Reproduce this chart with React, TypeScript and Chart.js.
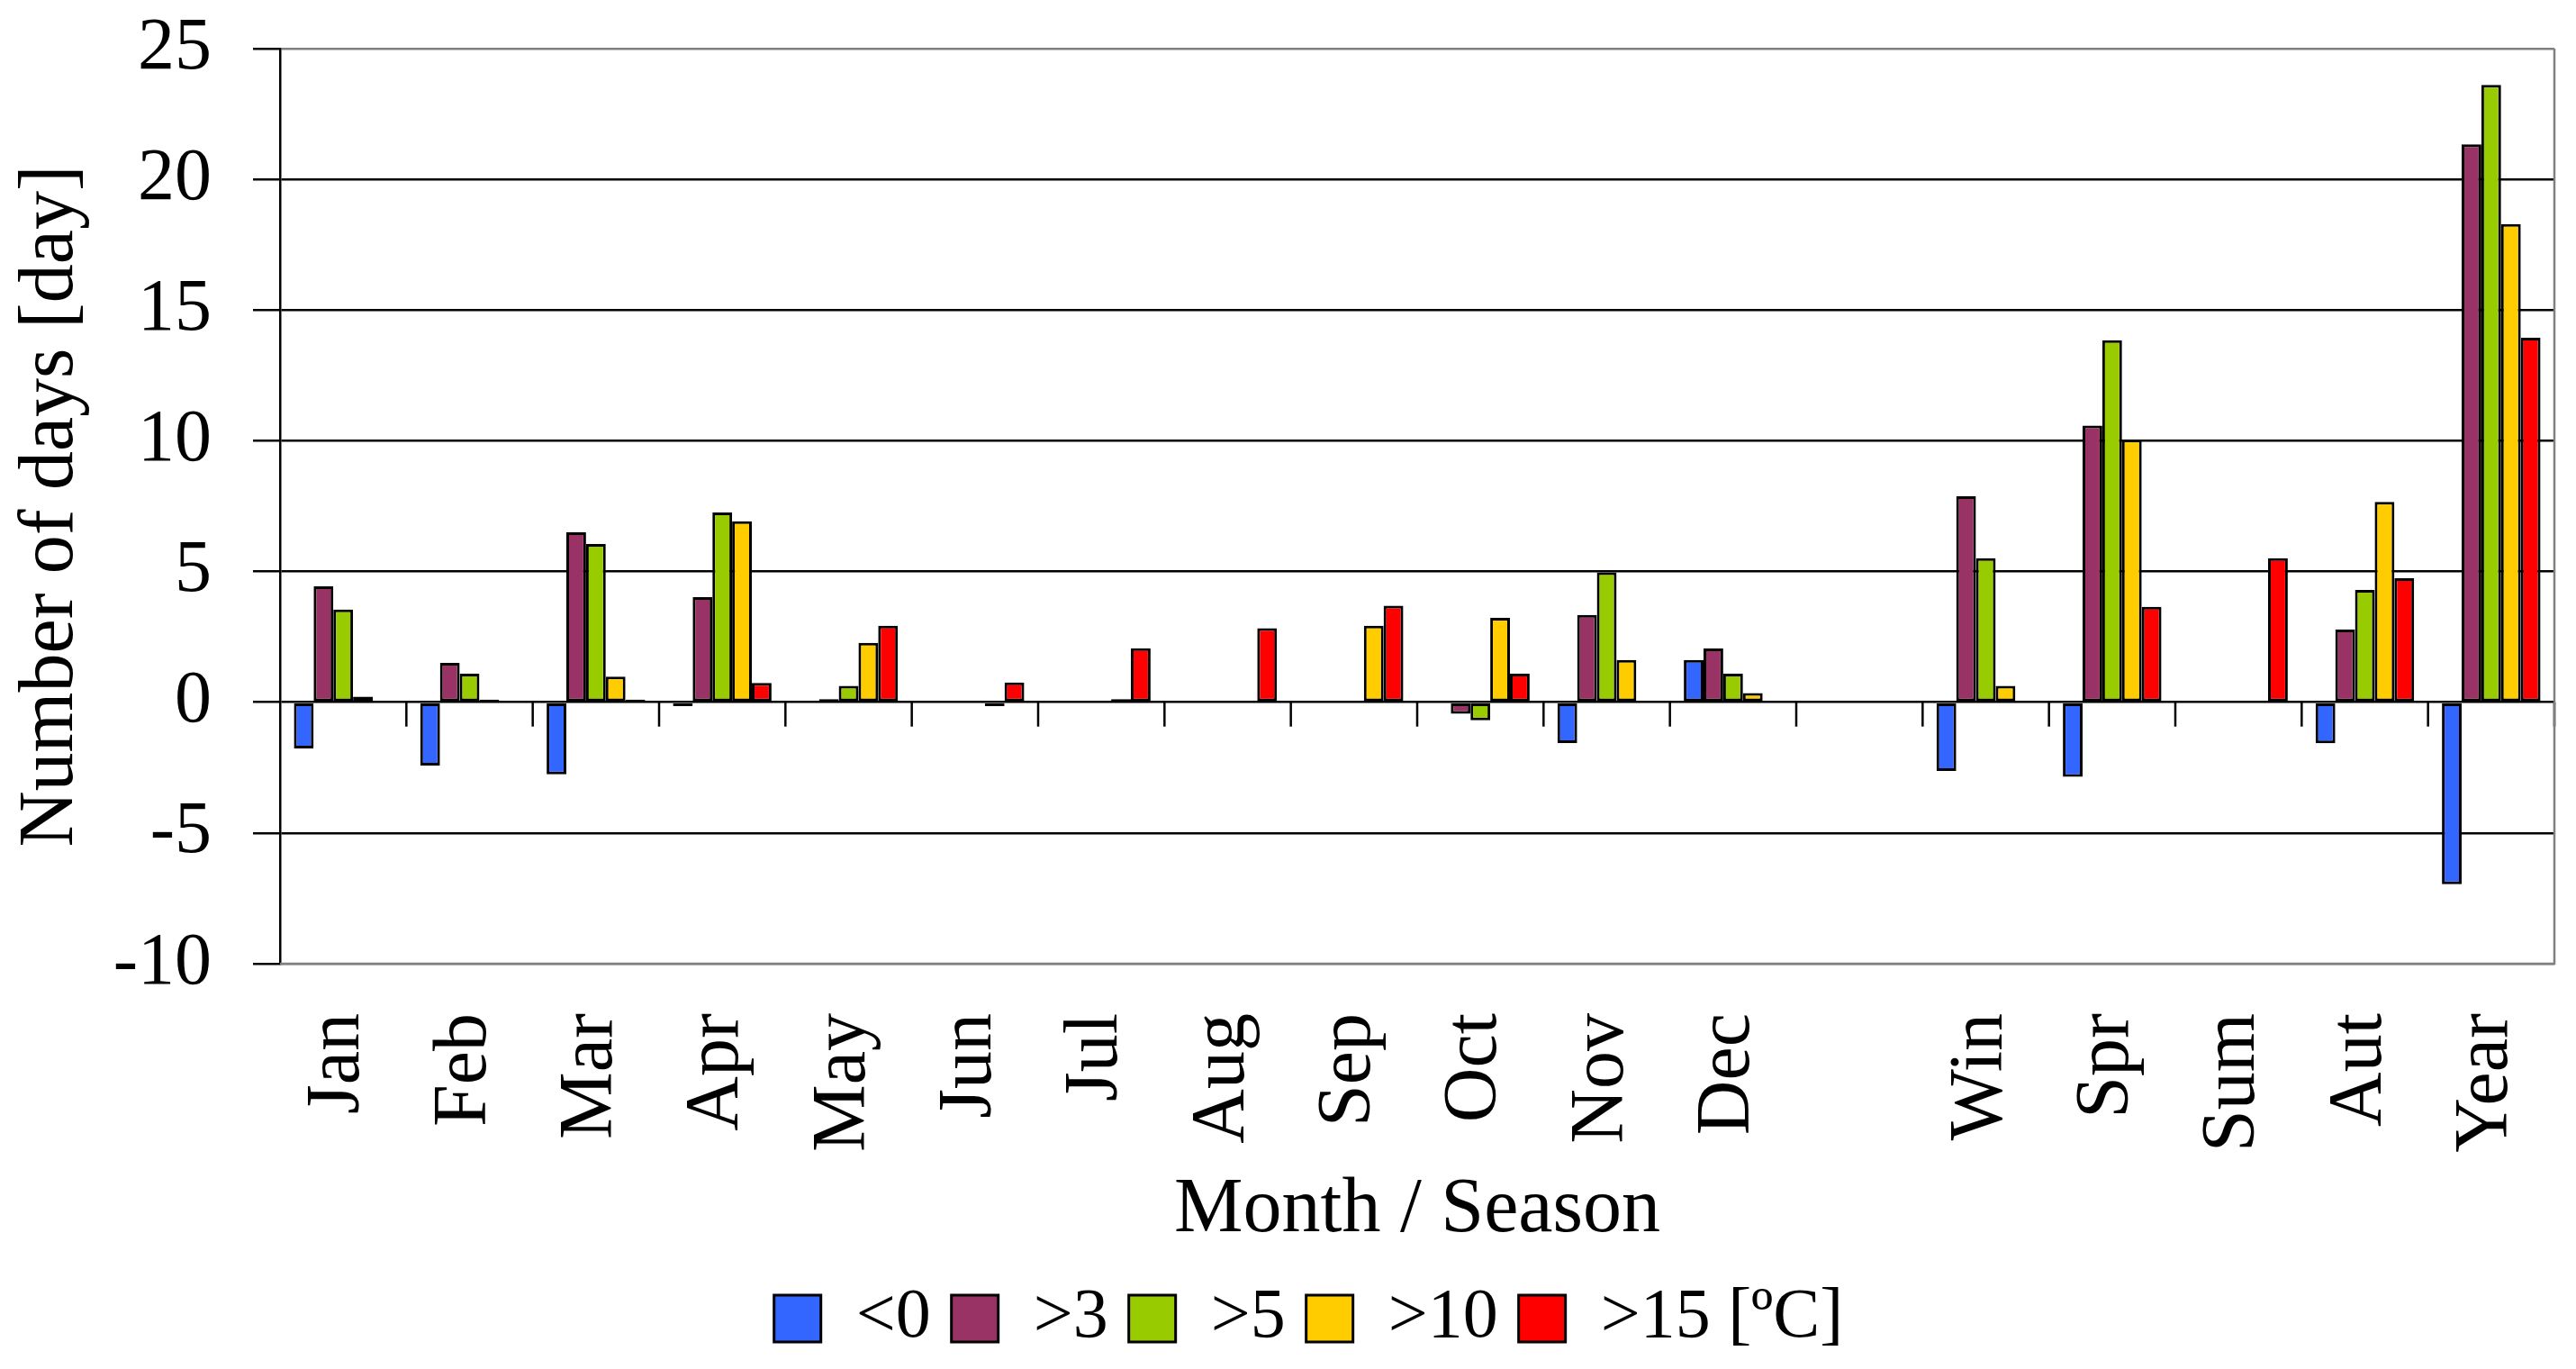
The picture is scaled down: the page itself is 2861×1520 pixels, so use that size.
import React, { useEffect, useRef } from 'react';
import { Chart, registerables } from 'chart.js';

Chart.register(...registerables);

const categories = ['Jan', 'Feb', 'Mar', 'Apr', 'May', 'Jun', 'Jul', 'Aug', 'Sep', 'Oct', 'Nov', 'Dec', '', 'Win', 'Spr', 'Sum', 'Aut', 'Year'];
const seriesLabels = ['<0', '>3', '>5', '>10', '>15 [ºC]'];
const below0 = [-1.77, -2.42, -2.76, -0.15, 0, 0, 0, 0, 0, 0, -1.56, 1.62, null, -2.63, -2.85, 0, -1.57, -6.96];
const above3 = [4.43, 1.51, 6.5, 4.02, 0.12, 0, 0, 0, 0, -0.44, 3.34, 2.06, null, 7.88, 10.58, 0, 2.78, 21.34];
const above5 = [3.55, 1.09, 6.05, 7.26, 0.63, 0, 0, 0, 0, -0.69, 4.97, 1.09, null, 5.51, 13.85, 0, 4.3, 23.61];
const above10 = [0.21, 0.1, 0.98, 6.92, 2.27, -0.15, 0.12, 0, 2.93, 3.23, 1.62, 0.35, null, 0.63, 10.05, 0, 7.66, 18.29];
const above15 = [0, 0, 0.1, 0.74, 2.93, 0.76, 2.07, 2.83, 3.69, 1.09, 0, 0, null, 0, 3.65, 5.51, 4.74, 13.94];
const yMin = -10;
const yMax = 25;
const yStep = 5;

const seriesValues = [below0, above3, above5, above10, above15];
const seriesColors = ['#3366FF', '#993366', '#99CC00', '#FFCC00', '#FF0000'];
const FONT = "'Liberation Serif', 'Times New Roman', serif";

const framePlugin = {
  id: 'frame',
  beforeDatasetsDraw(chart: any) {
    const { ctx, chartArea, scales } = chart;
    const x = scales.x;
    const y = scales.y;
    const y0 = y.getPixelForValue(0);
    ctx.save();
    ctx.strokeStyle = '#000';
    ctx.lineWidth = 2.5;
    const n = categories.length;
    for (let i = 1; i <= n; i++) {
      const px = i === n ? chartArea.right : (x.getPixelForValue(i - 1) + x.getPixelForValue(i)) / 2;
      ctx.beginPath();
      ctx.moveTo(px, y0);
      ctx.lineTo(px, y0 + 27);
      ctx.stroke();
    }
    ctx.restore();
  },
  afterDatasetsDraw(chart: any) {
    const { ctx, chartArea } = chart;
    ctx.save();
    ctx.strokeStyle = '#808080';
    ctx.lineWidth = 2.5;
    ctx.beginPath();
    ctx.moveTo(chartArea.right, chartArea.top);
    ctx.lineTo(chartArea.right, chartArea.bottom);
    ctx.lineTo(chartArea.left, chartArea.bottom);
    ctx.stroke();
    ctx.restore();
  },
};

export default function App() {
  const ref = useRef<HTMLCanvasElement>(null);

  useEffect(() => {
    if (!ref.current) return;
    const chart = new Chart(ref.current, {
      type: 'bar',
      data: {
        labels: categories,
        datasets: seriesLabels.map((label, i) => ({
          label,
          data: seriesValues[i],
          backgroundColor: seriesColors[i],
          borderColor: '#000',
          borderWidth: 3,
          borderSkipped: false,
          categoryPercentage: 0.78,
          barPercentage: 1,
          inflateAmount: 0,
        })),
      },
      options: {
        responsive: true,
        maintainAspectRatio: false,
        animation: false,
        layout: { padding: { left: 70, right: 24, top: 54, bottom: 7 } },
        plugins: {
          tooltip: { enabled: false },
          legend: {
            display: true,
            position: 'bottom',
            labels: {
              boxWidth: 52,
              boxHeight: 52,
              padding: 23,
              color: '#000',
              font: { family: FONT, size: 78 },
            },
          },
        },
        scales: {
          x: {
            grid: { display: false, drawTicks: false },
            border: { display: false },
            ticks: {
              color: '#000',
              font: { family: FONT, size: 84 },
              minRotation: 90,
              maxRotation: 90,
              padding: 55,
              labelOffset: -5,
              autoSkip: false,
            },
            title: {
              display: true,
              text: 'Month / Season',
              color: '#000',
              font: { family: FONT, size: 86, lineHeight: 1 },
              padding: { top: 0, bottom: 15 },
            },
            afterFit: (s: any) => {
              s.height = 332;
              s.paddingLeft = 0;
              s.paddingRight = 0;
            },
          },
          y: {
            min: yMin,
            max: yMax,
            ticks: {
              stepSize: yStep,
              color: '#000',
              font: { family: FONT, size: 82 },
              padding: 46,
              callback: (v: any) => String(v),
            },
            grid: {
              color: (c: any) => (c.tick && (c.tick.value === yMax || c.tick.value === yMin) ? '#808080' : '#000'),
              lineWidth: 2.5,
              drawTicks: true,
              tickLength: 30,
              tickColor: '#000',
              tickWidth: 2.5,
            },
            border: { display: true, color: '#000', width: 2.5 },
            title: {
              display: true,
              text: 'Number of days [day]',
              color: '#000',
              font: { family: FONT, size: 86, lineHeight: 1 },
              padding: { top: -56, bottom: 0 },
            },
            afterFit: (s: any) => {
              s.width = 241;
              s.paddingTop = 0;
              s.paddingBottom = 0;
            },
          },
        },
      },
      plugins: [framePlugin],
    });
    return () => chart.destroy();
  }, []);

  return (
    <div style={{ position: 'absolute', left: 0, top: 0, width: 2861, height: 1520, background: '#fff' }}>
      <canvas ref={ref} />
    </div>
  );
}
